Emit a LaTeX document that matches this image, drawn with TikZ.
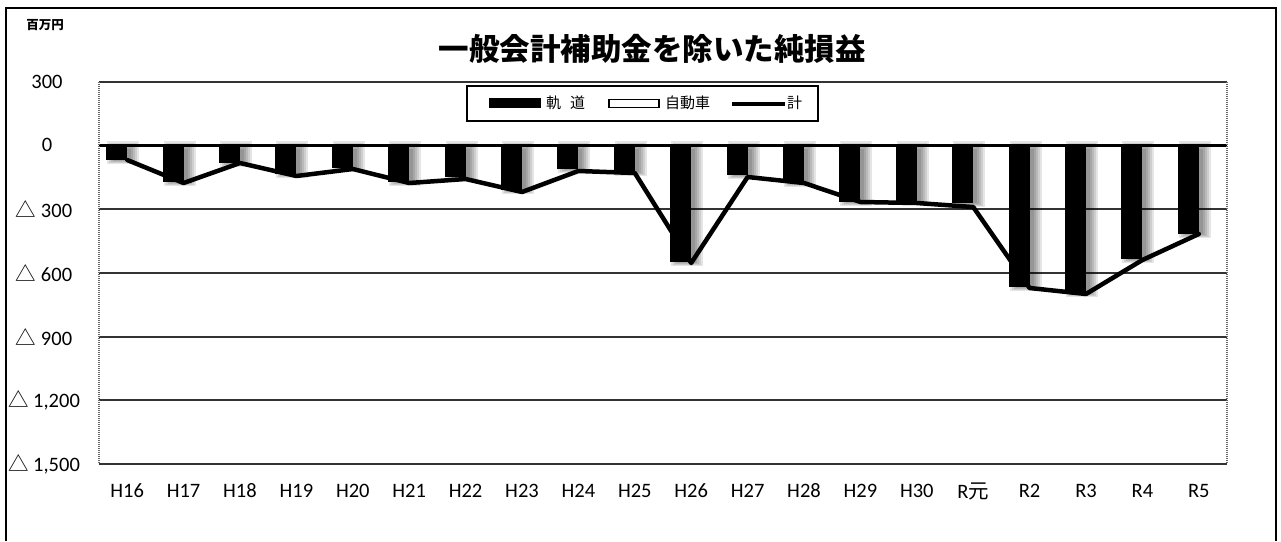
\documentclass[tikz,border=0pt]{standalone}
\usepackage{fontspec}
\setmainfont{Carlito}
\newfontfamily\jp{Noto Sans CJK JP}
\begin{document}
\begin{tikzpicture}[x=1pt,y=-1pt,
  frameline/.style={line width=2pt, black},
  gridline/.style={line width=1.6pt, black!80},
  zeroline/.style={line width=3pt, black},
  plotedge/.style={line width=1.2pt, black!60, dash pattern=on 1pt off 1pt},
  shadowlayer/.style={fill=black, fill opacity=0.1},
  barfill/.style={fill=black},
  series/.style={line width=4.5pt, black, line join=round, line cap=round},
  ylbl/.style={font=\fontsize{20.5}{20.5}\selectfont, inner sep=0pt},
  xlbl/.style={font=\fontsize{20.5}{20.5}\selectfont, inner sep=0pt},
  legtext/.style={font=\jp\fontsize{15}{15}\selectfont, inner sep=0pt, anchor=west},
  legbox/.style={draw=black, line width=2pt, fill=white},
]
\useasboundingbox (0,0) rectangle (1281,541);
% outer frame
\draw[frameline] (6,541) -- (6,8) -- (1276,8) -- (1276,541);
% title and unit
\node[font=\jp\bfseries\fontsize{30.5}{30.5}\selectfont, inner sep=0pt] (title) at (652,49) {一般会計補助金を除いた純損益};
\node[font=\jp\bfseries\fontsize{12.5}{12.5}\selectfont, inner sep=0pt] (unit) at (45,25) {百万円};
% gridlines
\foreach \y in {82,209,273,337,400,464} { \draw[gridline] (99,\y) -- (1227,\y); }
% y labels
\node[ylbl] (y300) at (47,82) {300};
\node[ylbl] (y0) at (47,145) {0};
\node[ylbl] (ym300) at (44,209) {{\jp △} 300};
\node[ylbl] (ym600) at (44,273) {{\jp △} 600};
\node[ylbl] (ym900) at (44,337) {{\jp △} 900};
\node[ylbl] (ym1200) at (44,400) {{\jp △} 1,200};
\node[ylbl] (ym1500) at (44,464) {{\jp △} 1,500};
% shadows
\foreach \i/\b in {0/160,1/182,2/163,3/174,4/168,5/182,6/177,7/190,8/169,9/172,10/262,11/175,12/183,13/202,14/201,15/203,16/287,17/293,18/259,19/234} {
  \pgfmathsetmacro\cx{99+56.4*(\i+0.5)}
  \foreach \e in {0,2,4,6,8} {
    \fill[shadowlayer] (\cx-12-\e,149-\e) rectangle (\cx+4+\e,\b+0.5*\e);
  }
}
\draw[zeroline] (99,145) -- (1227,145);
% bars, series points, category labels
\foreach \i/\b/\l/\lab in {0/160/160/H16,1/182/183/H17,2/163/163/H18,3/174/176/H19,4/168/169/H20,5/182/183/H21,6/177/179/H22,7/190/192/H23,8/169/171/H24,9/172/173/H25,10/262/263/H26,11/175/177/H27,12/183/183/H28,13/202/202/H29,14/201/203/H30,15/203/207/R{\jp 元},16/287/288/R2,17/293/294/R3,18/259/260/R4,19/234/234/R5} {
  \pgfmathsetmacro\cx{99+56.4*(\i+0.5)}
  \fill[barfill] (\cx-21,145) rectangle (\cx,\b);
  \coordinate (s\i) at (\cx,\l);
  \node[xlbl] (c\i) at (\cx,491) {\lab};
}
\draw[series] (s0) \foreach \i in {1,...,19} { -- (s\i) };
% plot area side edges
\draw[plotedge] (99,82) -- (99,464);
\draw[plotedge] (1227,82) -- (1227,464);
% legend
\node[legbox, minimum width=351pt, minimum height=35pt, inner sep=0pt] (legend) at (642.5,103.5) {};
\fill[black] (489,98) rectangle (541,108);
\node[legtext] (l1) at (546,103) {軌\hspace{9pt}道};
\draw[black, line width=1.5pt, fill=white] (609,99.5) rectangle (659,107.5);
\node[legtext] (l2) at (665,103) {自動車};
\coordinate (la) at (732,104);
\coordinate (lb) at (785,104);
\draw[line width=4pt, black] (la) -- (lb);
\node[legtext] (l3) at (787,103) {計};
\end{tikzpicture}
\end{document}
